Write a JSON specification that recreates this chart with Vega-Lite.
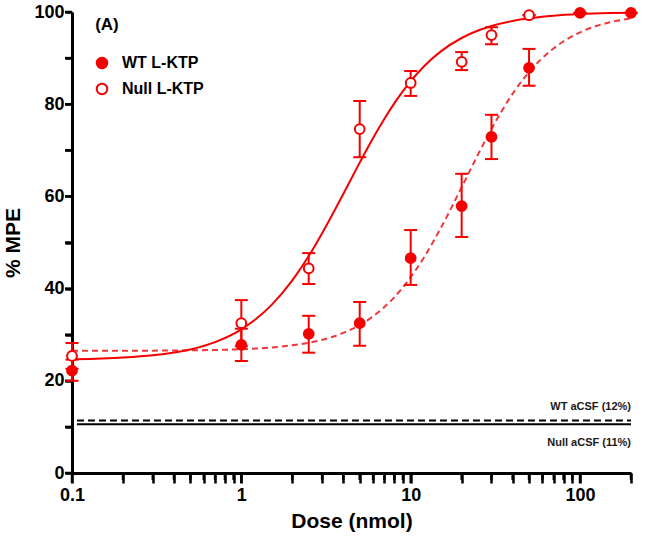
{
  "$schema": "https://vega.github.io/schema/vega-lite/v6.json",
  "width": 559,
  "height": 461,
  "autosize": {"type": "none"},
  "padding": {"left": 72, "top": 12, "right": 14, "bottom": 68},
  "background": "white",
  "config": {
    "view": {"stroke": null},
    "font": "Liberation Sans",
    "axis": {
      "grid": false,
      "domainColor": "black",
      "domainWidth": 3,
      "labelFont": "Liberation Sans",
      "labelFontWeight": "bold",
      "labelFontSize": 18,
      "labelColor": "black",
      "titleFont": "Liberation Sans",
      "titleFontWeight": "bold",
      "titleFontSize": 21,
      "titleColor": "black"
    }
  },
  "datasets": {
    "points": [
      {"group": "WT L-KTP", "dose": 0.1, "pct": 22.2, "lo": 20.0, "hi": 24.6},
      {"group": "WT L-KTP", "dose": 1, "pct": 27.8, "lo": 24.3, "hi": 31.3},
      {"group": "WT L-KTP", "dose": 2.5, "pct": 30.2, "lo": 26.1, "hi": 34.1},
      {"group": "WT L-KTP", "dose": 5, "pct": 32.5, "lo": 27.6, "hi": 37.1},
      {"group": "WT L-KTP", "dose": 10, "pct": 46.6, "lo": 40.8, "hi": 52.7},
      {"group": "WT L-KTP", "dose": 20, "pct": 57.9, "lo": 51.2, "hi": 64.9},
      {"group": "WT L-KTP", "dose": 30, "pct": 72.9, "lo": 68.1, "hi": 77.7},
      {"group": "WT L-KTP", "dose": 50, "pct": 87.9, "lo": 84.0, "hi": 92.0},
      {"group": "WT L-KTP", "dose": 100, "pct": 99.8, "lo": 99.8, "hi": 99.8},
      {"group": "WT L-KTP", "dose": 200, "pct": 99.8, "lo": 99.8, "hi": 99.8},
      {"group": "Null L-KTP", "dose": 0.1, "pct": 25.4, "lo": 22.6, "hi": 28.2},
      {"group": "Null L-KTP", "dose": 1, "pct": 32.5, "lo": 27.5, "hi": 37.5},
      {"group": "Null L-KTP", "dose": 2.5, "pct": 44.4, "lo": 41.0, "hi": 47.7},
      {"group": "Null L-KTP", "dose": 5, "pct": 74.6, "lo": 68.5, "hi": 80.7},
      {"group": "Null L-KTP", "dose": 10, "pct": 84.6, "lo": 81.8, "hi": 87.2},
      {"group": "Null L-KTP", "dose": 20, "pct": 89.2, "lo": 87.4, "hi": 91.3},
      {"group": "Null L-KTP", "dose": 30, "pct": 95.0, "lo": 93.0, "hi": 96.7},
      {"group": "Null L-KTP", "dose": 50, "pct": 99.3, "lo": 99.3, "hi": 99.3}
    ],
    "curves": [
      {"group": "Null", "dose": 0.1, "pct": 24.67},
      {"group": "Null", "dose": 0.15, "pct": 24.84},
      {"group": "Null", "dose": 0.2, "pct": 25.04},
      {"group": "Null", "dose": 0.3, "pct": 25.52},
      {"group": "Null", "dose": 0.5, "pct": 26.8},
      {"group": "Null", "dose": 0.7, "pct": 28.39},
      {"group": "Null", "dose": 1, "pct": 31.16},
      {"group": "Null", "dose": 1.5, "pct": 36.36},
      {"group": "Null", "dose": 2, "pct": 41.8},
      {"group": "Null", "dose": 2.5, "pct": 47.07},
      {"group": "Null", "dose": 3, "pct": 52.02},
      {"group": "Null", "dose": 4, "pct": 60.54},
      {"group": "Null", "dose": 5, "pct": 67.32},
      {"group": "Null", "dose": 6, "pct": 72.68},
      {"group": "Null", "dose": 7, "pct": 76.86},
      {"group": "Null", "dose": 8, "pct": 80.18},
      {"group": "Null", "dose": 10, "pct": 85.0},
      {"group": "Null", "dose": 12, "pct": 88.24},
      {"group": "Null", "dose": 15, "pct": 91.4},
      {"group": "Null", "dose": 20, "pct": 94.36},
      {"group": "Null", "dose": 25, "pct": 95.98},
      {"group": "Null", "dose": 30, "pct": 96.97},
      {"group": "Null", "dose": 40, "pct": 98.07},
      {"group": "Null", "dose": 50, "pct": 98.64},
      {"group": "Null", "dose": 70, "pct": 99.21},
      {"group": "Null", "dose": 100, "pct": 99.55},
      {"group": "Null", "dose": 150, "pct": 99.77},
      {"group": "Null", "dose": 200, "pct": 99.85},
      {"group": "WT", "dose": 0.1, "pct": 26.51},
      {"group": "WT", "dose": 0.2, "pct": 26.52},
      {"group": "WT", "dose": 0.3, "pct": 26.54},
      {"group": "WT", "dose": 0.5, "pct": 26.61},
      {"group": "WT", "dose": 0.7, "pct": 26.69},
      {"group": "WT", "dose": 1, "pct": 26.86},
      {"group": "WT", "dose": 1.5, "pct": 27.23},
      {"group": "WT", "dose": 2, "pct": 27.7},
      {"group": "WT", "dose": 2.5, "pct": 28.26},
      {"group": "WT", "dose": 3, "pct": 28.9},
      {"group": "WT", "dose": 4, "pct": 30.39},
      {"group": "WT", "dose": 5, "pct": 32.1},
      {"group": "WT", "dose": 6, "pct": 34.0},
      {"group": "WT", "dose": 7, "pct": 36.01},
      {"group": "WT", "dose": 8, "pct": 38.11},
      {"group": "WT", "dose": 10, "pct": 42.48},
      {"group": "WT", "dose": 12, "pct": 46.81},
      {"group": "WT", "dose": 15, "pct": 53.02},
      {"group": "WT", "dose": 20, "pct": 61.99},
      {"group": "WT", "dose": 25, "pct": 69.11},
      {"group": "WT", "dose": 30, "pct": 74.63},
      {"group": "WT", "dose": 40, "pct": 82.27},
      {"group": "WT", "dose": 50, "pct": 86.97},
      {"group": "WT", "dose": 70, "pct": 92.14},
      {"group": "WT", "dose": 100, "pct": 95.58},
      {"group": "WT", "dose": 150, "pct": 97.76},
      {"group": "WT", "dose": 200, "pct": 98.62}
    ],
    "baselines": [
      {"name": "WT aCSF", "dose": 0.107, "dose2": 200, "pct": 11.4, "label": "WT aCSF (12%)", "labelPct": 14.3},
      {"name": "Null aCSF", "dose": 0.107, "dose2": 200, "pct": 10.6, "label": "Null aCSF (11%)", "labelPct": 6.6}
    ],
    "panel": [
      {"dose": 0.137, "pct": 97.2, "label": "(A)"}
    ],
    "xticks": [
      {"dose": 0.1, "major": true}, {"dose": 0.2, "major": false}, {"dose": 0.3, "major": false},
      {"dose": 0.4, "major": false}, {"dose": 0.5, "major": false}, {"dose": 0.6, "major": false},
      {"dose": 0.7, "major": false}, {"dose": 0.8, "major": false}, {"dose": 0.9, "major": false},
      {"dose": 1, "major": true}, {"dose": 2, "major": false}, {"dose": 3, "major": false},
      {"dose": 4, "major": false}, {"dose": 5, "major": false}, {"dose": 6, "major": false},
      {"dose": 7, "major": false}, {"dose": 8, "major": false}, {"dose": 9, "major": false},
      {"dose": 10, "major": true}, {"dose": 20, "major": false}, {"dose": 30, "major": false},
      {"dose": 40, "major": false}, {"dose": 50, "major": false}, {"dose": 60, "major": false},
      {"dose": 70, "major": false}, {"dose": 80, "major": false}, {"dose": 90, "major": false},
      {"dose": 100, "major": true}, {"dose": 200, "major": false}
    ],
    "yticks": [
      {"dose": 0.1, "pct": 0}, {"dose": 0.1, "pct": 10}, {"dose": 0.1, "pct": 20}, {"dose": 0.1, "pct": 30},
      {"dose": 0.1, "pct": 40}, {"dose": 0.1, "pct": 50}, {"dose": 0.1, "pct": 60}, {"dose": 0.1, "pct": 70},
      {"dose": 0.1, "pct": 80}, {"dose": 0.1, "pct": 90}, {"dose": 0.1, "pct": 100}
    ]
  },
  "layer": [
    {
      "data": {"name": "baselines"},
      "transform": [{"filter": "datum.name == 'WT aCSF'"}],
      "mark": {"type": "rule", "color": "black", "strokeWidth": 2, "strokeDash": [7, 4]},
      "encoding": {
        "x": {
          "field": "dose", "type": "quantitative",
          "scale": {"type": "log", "domain": [0.1, 200], "nice": false},
          "title": "Dose (nmol)",
          "axis": {
            "values": [0.1, 0.2, 0.3, 0.4, 0.5, 0.6, 0.7, 0.8, 0.9, 1, 2, 3, 4, 5, 6, 7, 8, 9, 10, 20, 30, 40, 50, 60, 70, 80, 90, 100, 200],
            "labelExpr": "datum.value == 0.1 ? '0.1' : datum.value == 1 ? '1' : datum.value == 10 ? '10' : datum.value == 100 ? '100' : ''",
            "labelOverlap": false,
            "labelFlush": false,
            "ticks": true,
            "tickSize": 10,
            "tickWidth": 2.5,
            "tickColor": "black",
            "labelPadding": 3,
            "titlePadding": 6
          }
        },
        "x2": {"field": "dose2"},
        "y": {
          "field": "pct", "type": "quantitative",
          "scale": {"domain": [0, 100], "nice": false, "zero": true},
          "title": "% MPE",
          "axis": {
            "values": [0, 10, 20, 30, 40, 50, 60, 70, 80, 90, 100],
            "labelExpr": "datum.value % 20 == 0 ? datum.value + '' : ''",
            "labelOverlap": false,
            "labelFlush": false,
            "ticks": true,
            "tickSize": 7,
            "tickWidth": 2.5,
            "tickColor": "black",
            "labelPadding": 1,
            "titlePadding": 10
          }
        }
      }
    },
    {
      "data": {"name": "xticks"},
      "transform": [{"filter": "datum.major"}],
      "mark": {"type": "rule", "color": "black", "strokeWidth": 2.5, "clip": false},
      "encoding": {
        "x": {"field": "dose", "type": "quantitative", "title": "Dose (nmol)"},
        "y": {"datum": 0, "type": "quantitative", "title": "% MPE"},
        "y2": {"datum": -2.2}
      }
    },
    {
      "data": {"name": "xticks"},
      "transform": [{"filter": "!datum.major"}],
      "mark": {"type": "rule", "color": "black", "strokeWidth": 2.5, "clip": false},
      "encoding": {
        "x": {"field": "dose", "type": "quantitative", "title": "Dose (nmol)"},
        "y": {"datum": 0, "type": "quantitative", "title": "% MPE"},
        "y2": {"datum": -1.5}
      }
    },
    {
      "data": {"name": "yticks"},
      "mark": {"type": "point", "shape": "M -1 0 L 0 0", "filled": false, "stroke": "black", "strokeWidth": 2.5, "size": 196, "opacity": 1, "clip": false},
      "encoding": {
        "x": {"field": "dose", "type": "quantitative", "title": "Dose (nmol)"},
        "y": {"field": "pct", "type": "quantitative", "title": "% MPE"}
      }
    },
    {
      "data": {"name": "baselines"},
      "transform": [{"filter": "datum.name == 'Null aCSF'"}],
      "mark": {"type": "rule", "color": "black", "strokeWidth": 2},
      "encoding": {
        "x": {"field": "dose", "type": "quantitative"},
        "x2": {"field": "dose2"},
        "y": {"field": "pct", "type": "quantitative"}
      }
    },
    {
      "data": {"name": "baselines"},
      "mark": {"type": "text", "align": "right", "baseline": "middle", "font": "Liberation Sans", "fontWeight": "bold", "fontSize": 11, "color": "#1a1a1a"},
      "encoding": {
        "x": {"field": "dose2", "type": "quantitative"},
        "y": {"field": "labelPct", "type": "quantitative"},
        "text": {"field": "label"}
      }
    },
    {
      "data": {"name": "panel"},
      "mark": {"type": "text", "align": "left", "baseline": "middle", "font": "Liberation Sans", "fontWeight": "bold", "fontSize": 17, "color": "black"},
      "encoding": {
        "x": {"field": "dose", "type": "quantitative"},
        "y": {"field": "pct", "type": "quantitative"},
        "text": {"field": "label"}
      }
    },
    {
      "data": {"name": "curves"},
      "transform": [{"filter": "datum.group == 'WT'"}],
      "mark": {"type": "line", "color": "#f0383c", "strokeWidth": 2, "strokeDash": [6, 4], "interpolate": "monotone"},
      "encoding": {
        "x": {"field": "dose", "type": "quantitative"},
        "y": {"field": "pct", "type": "quantitative"}
      }
    },
    {
      "data": {"name": "curves"},
      "transform": [{"filter": "datum.group == 'Null'"}],
      "mark": {"type": "line", "color": "#f50000", "strokeWidth": 2, "interpolate": "monotone"},
      "encoding": {
        "x": {"field": "dose", "type": "quantitative"},
        "y": {"field": "pct", "type": "quantitative"}
      }
    },
    {
      "data": {"name": "points"},
      "mark": {"type": "rule", "color": "#f50000", "strokeWidth": 2},
      "encoding": {
        "x": {"field": "dose", "type": "quantitative"},
        "y": {"field": "lo", "type": "quantitative"},
        "y2": {"field": "hi"}
      }
    },
    {
      "data": {"name": "points"},
      "mark": {"type": "point", "shape": "M -1 0 L 1 0", "filled": false, "stroke": "#f50000", "strokeWidth": 2, "size": 169, "opacity": 1},
      "encoding": {
        "x": {"field": "dose", "type": "quantitative"},
        "y": {"field": "lo", "type": "quantitative"}
      }
    },
    {
      "data": {"name": "points"},
      "mark": {"type": "point", "shape": "M -1 0 L 1 0", "filled": false, "stroke": "#f50000", "strokeWidth": 2, "size": 169, "opacity": 1},
      "encoding": {
        "x": {"field": "dose", "type": "quantitative"},
        "y": {"field": "hi", "type": "quantitative"}
      }
    },
    {
      "data": {"name": "points"},
      "mark": {"type": "point", "shape": "circle", "filled": true, "stroke": "#f50000", "strokeWidth": 2, "size": 95, "opacity": 1},
      "encoding": {
        "x": {"field": "dose", "type": "quantitative"},
        "y": {"field": "pct", "type": "quantitative"},
        "order": {"field": "group", "sort": "descending"},
        "fill": {
          "field": "group", "type": "nominal",
          "scale": {"domain": ["WT L-KTP", "Null L-KTP"], "range": ["#f50000", "white"]},
          "legend": {
            "orient": "none",
            "legendX": 22,
            "legendY": 43,
            "title": null,
            "labelFont": "Liberation Sans",
            "labelFontWeight": "bold",
            "labelFontSize": 16,
            "labelColor": "black",
            "labelOffset": 12,
            "symbolType": "circle",
            "symbolSize": 110,
            "symbolStrokeWidth": 2,
            "symbolStrokeColor": "#f50000",
            "symbolOpacity": 1,
            "rowPadding": 6,
            "padding": 0
          }
        }
      }
    }
  ]
}
